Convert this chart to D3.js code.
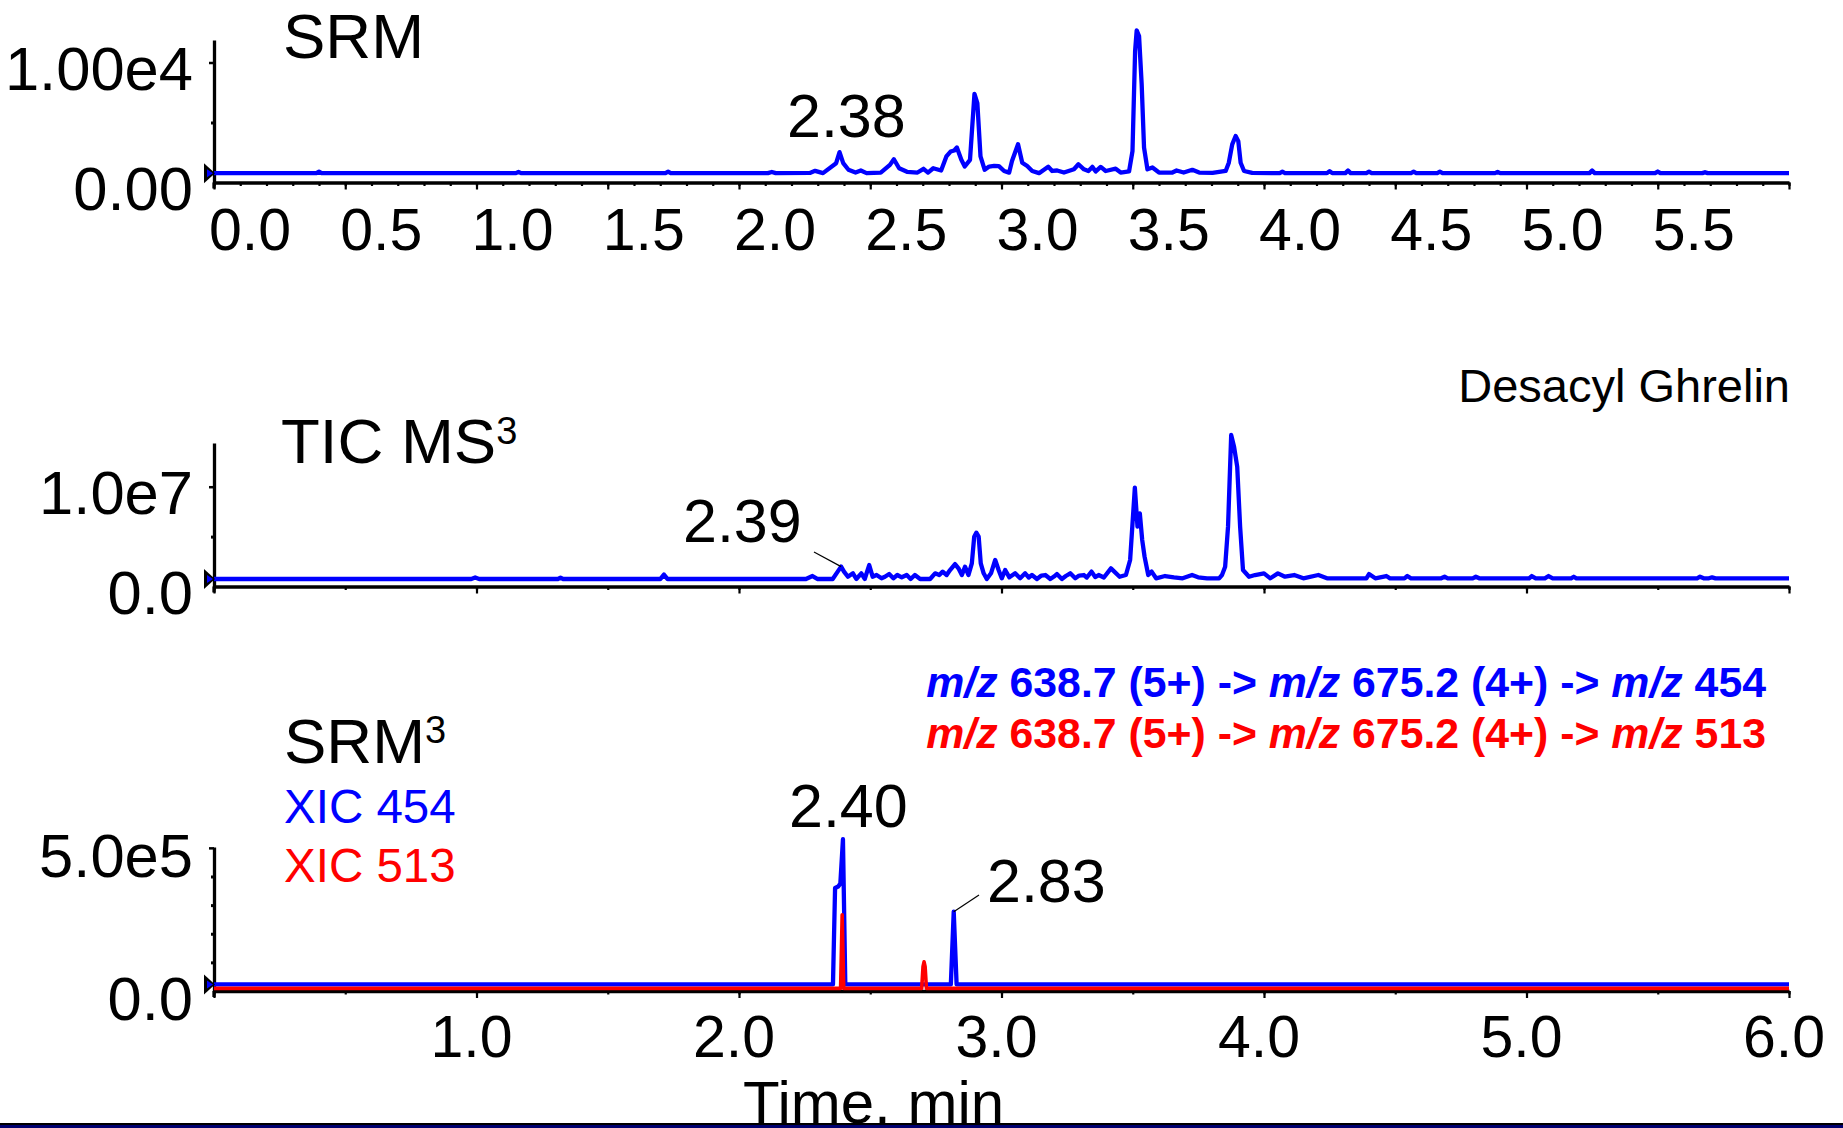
<!DOCTYPE html>
<html><head><meta charset="utf-8">
<script src="https://cdn.jsdelivr.net/npm/d3@7"></script>
<style>
body{margin:0;background:#fff}
svg{display:block}
text{font-family:"Liberation Sans",Arial,Helvetica,sans-serif;white-space:pre}
</style>
</head><body>
<svg id="c" width="1843" height="1128"></svg>
<script>
// ---------------- DATA ----------------
// Panel 1: SRM chromatogram [time(min), intensity(cps)]
const srmTrace = [
 [0.00,780],[0.39,780],[0.40,900],[0.41,780],[1.15,780],[1.16,880],[1.17,780],[1.72,780],[1.73,900],[1.74,780],
 [2.11,780],[2.125,880],[2.14,780],[2.27,800],[2.29,970],[2.32,780],[2.37,1610],[2.383,2530],[2.397,1610],
 [2.417,1060],[2.444,830],[2.464,1000],[2.486,780],[2.54,830],[2.575,1470],[2.59,1940],[2.61,1190],[2.64,890],
 [2.68,830],[2.703,1140],[2.72,830],[2.74,1190],[2.77,1000],[2.79,2170],[2.806,2580],[2.82,2670],[2.83,2920],
 [2.847,1890],[2.86,1330],[2.88,1890],[2.897,7390],[2.908,6610],[2.92,2170],[2.936,1060],[2.953,1330],[2.972,1390],
 [2.99,1370],[3.01,960],[3.029,820],[3.04,1790],[3.063,3180],[3.079,1650],[3.098,1370],[3.117,960],[3.143,780],
 [3.178,1320],[3.193,960],[3.212,1000],[3.238,830],[3.276,1100],[3.293,1520],[3.314,1100],[3.331,960],[3.346,1300],
 [3.359,920],[3.378,1300],[3.397,960],[3.435,1150],[3.454,830],[3.486,920],[3.499,2620],[3.509,10960],[3.515,12680],
 [3.524,12210],[3.534,8180],[3.543,2900],[3.556,1100],[3.575,1250],[3.60,830],[3.651,830],[3.667,1000],[3.694,830],
 [3.727,1060],[3.753,830],[3.804,800],[3.854,960],[3.866,1650],[3.879,3180],[3.892,3880],[3.902,3450],[3.911,1650],
 [3.924,960],[3.955,800],[4.06,780],[4.07,900],[4.08,780],[4.24,780],[4.25,950],[4.26,780],[4.31,780],[4.32,1000],
 [4.33,780],[4.39,780],[4.40,900],[4.41,780],[4.56,780],[4.57,900],[4.58,780],[4.66,780],[4.67,900],[4.68,780],
 [4.88,780],[4.89,880],[4.90,780],[5.24,780],[5.25,1000],[5.26,780],[5.49,780],[5.50,920],[5.51,780],
 [5.67,780],[5.68,860],[5.69,780],[6.00,780]
];
// Panel 2: TIC of MS3
const ticTrace = [
 [0.00,0.75e6],[0.98,0.75e6],[0.995,0.9e6],[1.01,0.75e6],[1.31,0.75e6],[1.32,0.88e6],[1.33,0.75e6],
 [1.70,0.75e6],[1.714,1.2e6],[1.728,0.75e6],[2.255,0.75e6],[2.28,1.05e6],[2.30,0.75e6],[2.357,0.75e6],
 [2.376,1.49e6],[2.389,1.99e6],[2.40,1.49e6],[2.415,0.98e6],[2.434,1.32e6],[2.447,0.75e6],[2.466,1.32e6],
 [2.479,0.75e6],[2.496,2.15e6],[2.509,0.98e6],[2.524,1.15e6],[2.543,0.82e6],[2.556,0.98e6],[2.572,1.25e6],
 [2.588,0.82e6],[2.603,1.15e6],[2.62,0.92e6],[2.639,1.15e6],[2.654,0.75e6],[2.67,1.15e6],[2.69,0.75e6],
 [2.728,0.75e6],[2.747,1.32e6],[2.763,1.15e6],[2.776,1.49e6],[2.791,1.15e6],[2.804,1.65e6],[2.823,2.25e6],
 [2.836,1.82e6],[2.849,1.15e6],[2.861,1.99e6],[2.874,1.15e6],[2.887,2.32e6],[2.896,4.99e6],[2.904,5.39e6],
 [2.913,4.99e6],[2.921,2.32e6],[2.932,1.32e6],[2.944,0.75e6],[2.96,1.32e6],[2.976,2.66e6],[2.989,1.65e6],
 [3.001,0.82e6],[3.014,1.65e6],[3.03,0.92e6],[3.052,1.32e6],[3.071,0.82e6],[3.09,1.32e6],[3.104,0.9e6],
 [3.116,1.15e6],[3.135,0.75e6],[3.152,1.1e6],[3.167,1.15e6],[3.186,0.75e6],[3.2,1.0e6],[3.211,1.25e6],
 [3.23,0.75e6],[3.245,1.05e6],[3.262,1.32e6],[3.281,0.82e6],[3.296,1.1e6],[3.314,1.15e6],[3.325,0.9e6],
 [3.343,1.49e6],[3.357,0.95e6],[3.37,1.15e6],[3.39,0.9e6],[3.417,1.82e6],[3.45,0.98e6],[3.474,1.15e6],
 [3.49,2.66e6],[3.508,9.9e6],[3.518,6.0e6],[3.527,7.33e6],[3.536,4.66e6],[3.545,2.99e6],[3.559,1.15e6],
 [3.572,1.49e6],[3.589,0.82e6],[3.623,1.05e6],[3.657,0.92e6],[3.69,0.82e6],[3.726,1.15e6],[3.749,0.92e6],
 [3.783,0.82e6],[3.829,0.82e6],[3.84,1.15e6],[3.852,1.99e6],[3.863,6.0e6],[3.875,15.18e6],[3.886,14.0e6],
 [3.898,12.0e6],[3.909,6.0e6],[3.92,1.65e6],[3.943,0.98e6],[3.966,1.15e6],[4.0,1.32e6],[4.024,0.82e6],
 [4.053,1.32e6],[4.08,0.98e6],[4.115,1.15e6],[4.15,0.82e6],[4.207,1.15e6],[4.24,0.82e6],[4.39,0.82e6],
 [4.40,1.25e6],[4.424,0.82e6],[4.466,1.05e6],[4.48,0.82e6],[4.535,0.82e6],[4.546,1.05e6],[4.56,0.82e6],
 [4.675,0.82e6],[4.688,0.98e6],[4.70,0.82e6],[4.795,0.82e6],[4.807,0.98e6],[4.82,0.82e6],[5.01,0.82e6],
 [5.02,1.05e6],[5.035,0.82e6],[5.07,0.82e6],[5.084,1.05e6],[5.10,0.82e6],[5.17,0.82e6],[5.18,0.98e6],
 [5.19,0.82e6],[5.65,0.82e6],[5.661,0.98e6],[5.675,0.82e6],[5.695,0.82e6],[5.707,0.92e6],[5.72,0.82e6],
 [6.00,0.82e6]
];
// Panel 3: SRM3 XICs
const xic454Trace = [
 [0.00,2.3e4],[2.358,2.3e4],[2.366,3.6e5],[2.378,3.65e5],[2.386,3.75e5],[2.396,5.3e5],[2.405,2.3e4],
 [2.807,2.3e4],[2.818,2.77e5],[2.829,2.3e4],[6.00,2.3e4]
];
const xic513Trace = [
 [0.00,0.9e4],[2.387,0.9e4],[2.393,2.66e5],[2.399,0.9e4],[2.696,0.9e4],[2.701,0.85e5],[2.705,1.02e5],
 [2.709,0.85e5],[2.714,0.9e4],[6.00,0.9e4]
];
// Axis tick values and labels
const srmYTicks = [0, 1e4];           const srmYLabels = ["0.00", "1.00e4"];
const ticYTicks = [0, 1e7];           const ticYLabels = ["0.0", "1.0e7"];
const srm3YTicks = [0, 5e5];          const srm3YLabels = ["0.0", "5.0e5"];
const srmXTicks = [0,0.5,1,1.5,2,2.5,3,3.5,4,4.5,5,5.5];
const srmXLabels = ["0.0","0.5","1.0","1.5","2.0","2.5","3.0","3.5","4.0","4.5","5.0","5.5"];
const srm3XTicks = [1,2,3,4,5,6];
const srm3XLabels = ["1.0","2.0","3.0","4.0","5.0","6.0"];
// Peak annotations
const peakLabels = ["2.38","2.39","2.40","2.83"];
// Transitions (legend)
const transition454 = ["m/z"," 638.7 (5+) -> ","m/z"," 675.2 (4+) -> ","m/z"," 454"];
const transition513 = ["m/z"," 638.7 (5+) -> ","m/z"," 675.2 (4+) -> ","m/z"," 513"];

// ---------------- DRAW ----------------
const svg = d3.select("#c");
svg.append("rect").attr("width",1843).attr("height",1128).attr("fill","#fff");
const BLUE = "#0000ff", RED = "#ff0000";
const x = d3.scaleLinear().domain([0,6]).range([214,1789]);
const y1 = d3.scaleLinear().domain([0,1.1875e4]).range([182.5,40]);
const y2 = d3.scaleLinear().domain([0,1.438e7]).range([586.5,443]);
const y3 = d3.scaleLinear().domain([0,5.03e5]).range([991,847]);
const FS_TICK = 59, FS_YLAB = 61.5, LW = 4.3;

function line(y){ return d3.line().x(d=>x(d[0])).y(d=>y(d[1])); }

function xAxis(y, minorStep, majorStep){
  const g = svg.append("g").attr("transform",`translate(0,${y(0)})`);
  const minor = d3.range(0, Math.round(6/minorStep)+1).map(i=>+(i*minorStep).toFixed(2));
  const major = d3.range(0, Math.round(6/majorStep)+1).map(i=>+(i*majorStep).toFixed(2));
  g.call(d3.axisBottom(x).tickValues(minor).tickSize(3.5).tickSizeOuter(0).tickFormat(""));
  const g2 = svg.append("g").attr("transform",`translate(0,${y(0)})`);
  g2.call(d3.axisBottom(x).tickValues(major).tickSize(7).tickSizeOuter(0).tickFormat(""));
  g2.select(".domain").remove();
  [g,g2].forEach(s=>{ s.selectAll(".tick line").attr("stroke","#000").attr("stroke-width",2.2); });
  g.select(".domain").attr("stroke","#000").attr("stroke-width",3.3);
}
function yAxis(y, ticks, labels, minorTicks, labOff){
  const g = svg.append("g").attr("transform",`translate(${x(0)},0)`);
  g.call(d3.axisLeft(y).tickValues(ticks.filter(t=>t>0)).tickSize(5).tickSizeOuter(0).tickFormat(""));
  g.select(".domain").attr("stroke","#000").attr("stroke-width",3.3);
  g.selectAll(".tick line").attr("stroke","#000").attr("stroke-width",2.5);
  const gm = svg.append("g").attr("transform",`translate(${x(0)},0)`);
  gm.call(d3.axisLeft(y).tickValues(minorTicks).tickSize(3).tickSizeOuter(0).tickFormat(""));
  gm.select(".domain").remove();
  gm.selectAll(".tick line").attr("stroke","#000").attr("stroke-width",3);
  svg.append("line").attr("x1",x(0)).attr("x2",x(0)).attr("y1",y(0)).attr("y2",y(0)+6)
    .attr("stroke","#000").attr("stroke-width",3.3);
  svg.append("g").selectAll("text").data(ticks).join("text")
    .attr("x",193).attr("y",d=>y(d)+labOff).attr("text-anchor","end")
    .attr("font-size",FS_YLAB).attr("fill","#000").text((d,i)=>labels[i]);
}
function marker(y, v){
  const cy = y(v), x0 = x(0);
  svg.append("path").attr("d",`M${x0-10},${cy-10}L${x0+1},${cy}L${x0-10},${cy+10}Z`).attr("fill","#000");
  svg.append("path").attr("d",`M${x0-7},${cy-4}L${x0-1},${cy}L${x0-7},${cy+4}Z`).attr("fill",BLUE);
}

// Panel 1 -------------------------------------------------
xAxis(y1, 0.1, 0.5);
yAxis(y1, srmYTicks, srmYLabels, [5e3], 27);
svg.append("path").datum(srmTrace).attr("d",line(y1)).attr("fill","none")
  .attr("stroke",BLUE).attr("stroke-width",LW).attr("stroke-linejoin","round");
marker(y1, srmTrace[0][1]);
svg.append("g").selectAll("text").data(srmXTicks).join("text")
  .attr("x",d=>x(d)-5).attr("y",250).attr("font-size",FS_TICK).attr("fill","#000")
  .text((d,i)=>srmXLabels[i]);
svg.append("text").attr("x",283).attr("y",58).attr("font-size",63.5).text("SRM");
svg.append("text").attr("x",787).attr("y",137).attr("font-size",61).text(peakLabels[0]);

// Panel 2 -------------------------------------------------
xAxis(y2, 0.5, 1.0);
yAxis(y2, ticYTicks, ticYLabels, [5e6], 27);
svg.append("path").datum(ticTrace).attr("d",line(y2)).attr("fill","none")
  .attr("stroke",BLUE).attr("stroke-width",LW).attr("stroke-linejoin","round");
marker(y2, ticTrace[0][1]);
{
  const t = svg.append("text").attr("x",281).attr("y",463).attr("font-size",63.5);
  t.append("tspan").text("TIC MS");
  t.append("tspan").attr("font-size",38).attr("dy",-19).text("3");
}
svg.append("text").attr("x",1790).attr("y",402).attr("text-anchor","end").attr("font-size",47).text("Desacyl Ghrelin");
svg.append("text").attr("x",683).attr("y",542).attr("font-size",61).text(peakLabels[1]);
svg.append("line").attr("x1",814).attr("y1",552).attr("x2",x(2.389)).attr("y2",y2(1.99e6))
  .attr("stroke","#000").attr("stroke-width",1.2);

// Panel 3 -------------------------------------------------
xAxis(y3, 0.5, 1.0);
yAxis(y3, srm3YTicks, srm3YLabels, [1e5,2e5,3e5,4e5], 29);
svg.append("path").datum(xic454Trace).attr("d",line(y3)).attr("fill","none")
  .attr("stroke",BLUE).attr("stroke-width",LW).attr("stroke-linejoin","round");
svg.append("path").datum(xic513Trace).attr("d",line(y3)).attr("fill","none")
  .attr("stroke",RED).attr("stroke-width",3.6).attr("stroke-linejoin","round");
marker(y3, xic454Trace[0][1]);
svg.append("g").selectAll("text").data(srm3XTicks).join("text")
  .attr("x",d=>x(d)-5).attr("y",1057).attr("text-anchor","middle").attr("font-size",FS_TICK).attr("fill","#000")
  .text((d,i)=>srm3XLabels[i]);
{
  const t = svg.append("text").attr("x",284).attr("y",763).attr("font-size",63.5);
  t.append("tspan").text("SRM");
  t.append("tspan").attr("font-size",38).attr("dy",-20).text("3");
}
svg.append("text").attr("x",284).attr("y",823).attr("font-size",47.5).attr("fill",BLUE).text("XIC 454");
svg.append("text").attr("x",284).attr("y",882).attr("font-size",47.5).attr("fill",RED).text("XIC 513");
svg.append("text").attr("x",789).attr("y",827).attr("font-size",61).text(peakLabels[2]);
svg.append("text").attr("x",987).attr("y",902).attr("font-size",61).text(peakLabels[3]);
svg.append("line").attr("x1",979).attr("y1",895).attr("x2",x(2.818)).attr("y2",y3(2.77e5))
  .attr("stroke","#000").attr("stroke-width",1.2);

function legendLine(parts, color, yb){
  const t = svg.append("text").attr("x",1766).attr("y",yb).attr("text-anchor","end")
    .attr("font-size",42.8).attr("font-weight","bold").attr("fill",color);
  parts.forEach((p,i)=>{ const s = t.append("tspan").text(p); if(i%2===0) s.attr("font-style","italic"); });
}
legendLine(transition454, BLUE, 697);
legendLine(transition513, RED, 748);

svg.append("text").attr("x",743).attr("y",1123).attr("font-size",60).text("Time, min");
// bottom frame band
svg.append("rect").attr("x",0).attr("y",1123).attr("width",1843).attr("height",2).attr("fill","#000");
svg.append("rect").attr("x",0).attr("y",1125).attr("width",1843).attr("height",3).attr("fill","#00006e");
</script>
</body></html>
